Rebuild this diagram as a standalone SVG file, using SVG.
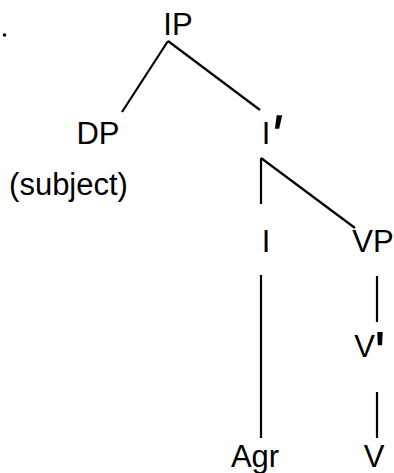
<svg xmlns="http://www.w3.org/2000/svg" width="394" height="473" viewBox="0 0 394 473">
<style>
text{font-family:"Liberation Sans",Arial,sans-serif;font-size:31px;fill:#000;text-anchor:middle}
.pr{font-size:62px}
line{stroke:#000;stroke-width:2.2;stroke-linecap:butt}
</style>
<rect width="394" height="473" fill="#fff"/>
<circle cx="4.5" cy="35" r="1.8" fill="#000"/>
<g id="connectors">
<line x1="168" y1="41" x2="122" y2="112"/>
<line x1="168" y1="41" x2="260" y2="110"/>
<line x1="261" y1="158" x2="261" y2="204"/>
<line x1="261" y1="158" x2="355" y2="228"/>
<line x1="261" y1="275" x2="261" y2="438"/>
<line x1="377" y1="276" x2="377" y2="322"/>
<line x1="377" y1="392" x2="377" y2="438"/>
</g>
<g id="IP"><text x="178" y="35">IP</text></g>
<g id="DP"><text x="98" y="144">DP</text></g>
<g id="subject"><text x="68.5" y="195">(subject)</text></g>
<g id="Ibar"><text x="266" y="144">I</text><text class="pr" transform="translate(272,158) skewX(-10)">'</text></g>
<g id="I"><text x="266" y="252">I</text></g>
<g id="VP"><text x="373" y="252">VP</text></g>
<g id="Vbar"><text x="364.5" y="357">V</text><text class="pr" x="380" y="374">'</text></g>
<g id="Agr"><text x="255" y="467">Agr</text></g>
<g id="V"><text x="374" y="467">V</text></g>
</svg>
